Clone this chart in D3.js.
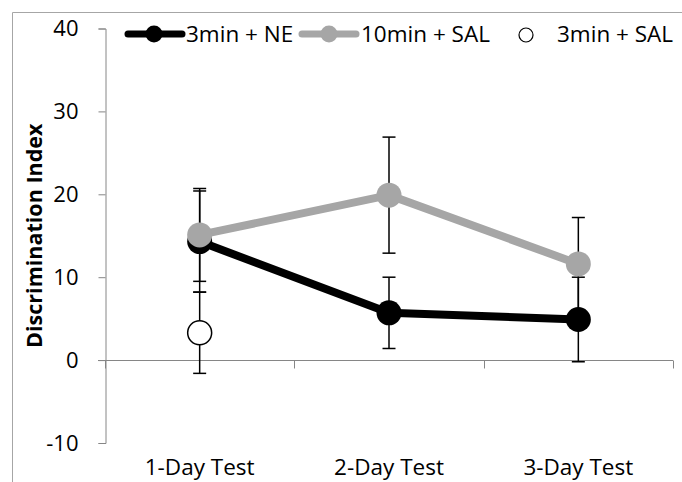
<!DOCTYPE html>
<html>
<head>
<meta charset="utf-8">
<script src="https://cdn.jsdelivr.net/npm/d3@7"></script>
<style>
  body { margin: 0; background: #fff; }
  svg { display: block; font-family: "Open Sans", sans-serif; }
</style>
</head>
<body>
<div id="chart"></div>
<script>
// categories and series
var tests = ["1-Day Test", "2-Day Test", "3-Day Test"];
var ne3Mean = [14.3, 5.7, 4.9];
var ne3Err  = [6.1, 4.3, 5.1];
var sal10Mean = [15.1, 19.9, 11.6];
var sal10Err  = [5.6, 7.0, 5.6];
var sal3Mean = [3.3];
var sal3Err  = [4.9];
var yTicks = [-10, 0, 10, 20, 30, 40];

var W = 682, H = 482;
var fs = 22.5;
var svg = d3.select("#chart").append("svg")
    .attr("width", W)
    .attr("height", H);

// outer chart frame (only top/left visible in the crop)
svg.append("path")
    .attr("d", "M12.5,482 V12.5 H682")
    .attr("fill", "none")
    .attr("stroke", "#a6a6a6")
    .attr("stroke-width", 1);

var x = d3.scaleBand().domain(tests).range([105, 673]).paddingInner(0).paddingOuter(0);
var y = d3.scaleLinear().domain([-10, 40]).range([443, 28.5]);
var cx = function (i) { return x(tests[i]) + x.bandwidth() / 2; };

var axisColor = "#868686";

// y axis
var yAxis = svg.append("g").attr("transform", "translate(105.5,0)")
    .call(d3.axisLeft(y).tickValues(yTicks).tickSize(7).tickPadding(20)
        .tickFormat(function (d) { return String(d); }));
yAxis.select(".domain").attr("stroke", axisColor);
yAxis.selectAll(".tick line").attr("stroke", axisColor);
yAxis.selectAll(".tick text").attr("fill", "#000").attr("font-size", 22)
    .attr("font-family", "'Open Sans', sans-serif");

// x axis along zero
var xAxisG = svg.append("g").attr("transform", "translate(0," + (Math.round(y(0)) + 0.5) + ")");
xAxisG.append("line").attr("x1", 98).attr("x2", 673).attr("stroke", axisColor);
var bounds = [105, 105 + x.bandwidth(), 105 + 2 * x.bandwidth(), 673];
xAxisG.selectAll(".xt").data(bounds).enter().append("line")
    .attr("x1", function (d) { return Math.round(d) + 0.5; })
    .attr("x2", function (d) { return Math.round(d) + 0.5; })
    .attr("y1", 0).attr("y2", 8)
    .attr("stroke", axisColor);

// category labels at the bottom
svg.selectAll(".cat").data(tests).enter().append("text")
    .attr("x", function (d, i) { return cx(i); })
    .attr("y", 475)
    .attr("text-anchor", "middle")
    .attr("font-size", fs)
    .text(function (d) { return d; });

// y title
svg.append("text")
    .attr("transform", "translate(42," + ((y(40) + y(-10)) / 2) + ") rotate(-90)")
    .attr("text-anchor", "middle")
    .attr("font-size", 21.5)
    .attr("font-weight", "bold")
    .text("Discrimination Index");

function errorBars(mean, err) {
    var g = svg.append("g").attr("stroke", "#000").attr("stroke-width", 1.5);
    mean.forEach(function (m, i) {
        var xc = cx(i), top = y(m + err[i]), bot = y(m - err[i]);
        g.append("line").attr("x1", xc).attr("x2", xc).attr("y1", top).attr("y2", bot);
        g.append("line").attr("x1", xc - 6.5).attr("x2", xc + 6.5).attr("y1", top).attr("y2", top);
        g.append("line").attr("x1", xc - 6.5).attr("x2", xc + 6.5).attr("y1", bot).attr("y2", bot);
    });
}

var line = d3.line()
    .x(function (d, i) { return cx(i); })
    .y(function (d) { return y(d); });

function series(mean, err, color) {
    errorBars(mean, err);
    svg.append("path").datum(mean)
        .attr("d", line)
        .attr("fill", "none")
        .attr("stroke", color)
        .attr("stroke-width", 8)
        .attr("stroke-linejoin", "round");
    svg.selectAll(null).data(mean).enter().append("circle")
        .attr("cx", function (d, i) { return cx(i); })
        .attr("cy", function (d) { return y(d); })
        .attr("r", 12.5)
        .attr("fill", color);
}

series(ne3Mean, ne3Err, "#000");
series(sal10Mean, sal10Err, "#a6a6a6");

// single 3min + SAL point
errorBars(sal3Mean, sal3Err);
svg.selectAll(null).data(sal3Mean).enter().append("circle")
    .attr("cx", function (d, i) { return cx(i); })
    .attr("cy", function (d) { return y(d); })
    .attr("r", 12)
    .attr("fill", "#fff")
    .attr("stroke", "#000")
    .attr("stroke-width", 1.5);

// legend
var legY = 34;
var leg = svg.append("g");
leg.append("line").attr("x1", 128).attr("x2", 182).attr("y1", legY).attr("y2", legY)
    .attr("stroke", "#000").attr("stroke-width", 7).attr("stroke-linecap", "round");
leg.append("circle").attr("cx", 154).attr("cy", legY).attr("r", 8.5).attr("fill", "#000");
leg.append("text").attr("x", 186).attr("y", legY + 8).attr("font-size", fs).text("3min + NE");

leg.append("line").attr("x1", 302).attr("x2", 356).attr("y1", legY).attr("y2", legY)
    .attr("stroke", "#a6a6a6").attr("stroke-width", 7).attr("stroke-linecap", "round");
leg.append("circle").attr("cx", 329).attr("cy", legY).attr("r", 8.5).attr("fill", "#a6a6a6");
leg.append("text").attr("x", 361).attr("y", legY + 8).attr("font-size", fs).text("10min + SAL");

leg.append("circle").attr("cx", 526).attr("cy", legY + 1).attr("r", 7)
    .attr("fill", "#fff").attr("stroke", "#000").attr("stroke-width", 1.2);
leg.append("text").attr("x", 557).attr("y", legY + 8).attr("font-size", fs).text("3min + SAL");
</script>
</body>
</html>
